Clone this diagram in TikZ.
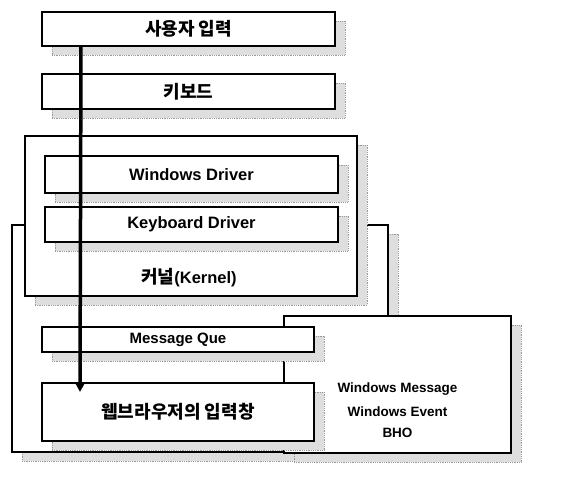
\documentclass[tikz,border=0pt]{standalone}
\usepackage{fontspec}
\setmainfont{Liberation Sans}
\newfontfamily\kr{Noto Sans CJK KR}
\usetikzlibrary{shadows,arrows.meta}
\tikzset{
  box/.style={draw=black, line width=1.3pt, fill=white, inner sep=0pt, outer sep=0pt,
    general shadow={fill=black!13, draw=black!40, densely dotted, line width=0.8pt, shadow xshift=10pt, shadow yshift=-9pt}},
  lbl/.style={font=\bfseries\fontsize{16.5}{19}\selectfont, inner sep=0pt},
  mlbl/.style={font=\bfseries\fontsize{15}{18}\selectfont, inner sep=0pt},
  rlbl/.style={font=\bfseries\fontsize{13.5}{16}\selectfont, inner sep=0pt},
  klbl/.style={font=\kr\bfseries\fontsize{18}{21}\selectfont, inner sep=0pt},
  flow/.style={line width=3.5pt, -{Triangle[length=9pt,width=9pt]}}
}
\begin{document}
\begin{tikzpicture}[x=1pt,y=-1pt]
\useasboundingbox (0,0) rectangle (563,484);
% outer application box
\node[box, minimum width=376pt, minimum height=227pt] (outer) at (200,338.5) {};
% right box
\node[box, minimum width=227pt, minimum height=137pt] (right) at (397.5,384.5) {};
% top boxes
\node[box, minimum width=293pt, minimum height=34pt, klbl] (user) at (188.5,29) {사용자~입력};
\node[box, minimum width=293pt, minimum height=35pt, klbl] (kbd) at (188.5,91.5) {키보드};
% kernel
\node[box, minimum width=332pt, minimum height=160pt] (kernel) at (191,216) {};
\node[box, minimum width=293pt, minimum height=37pt, lbl] (wdrv) at (191.5,174.5) {Windows Driver};
\node[box, minimum width=293pt, minimum height=35pt, lbl] (kdrv) at (191.5,224.5) {Keyboard Driver};
\node[klbl] (klabel) at (189,278) {커널{\rmfamily\bfseries\fontsize{16.5}{19}\selectfont(Kernel)}};
% application parts
\node[box, minimum width=272pt, minimum height=25pt, mlbl] (msg) at (178,339.5) {Message Que};
\node[box, minimum width=272pt, minimum height=58pt, klbl] (web) at (178,412) {웹브라우저의 입력창};
% right texts
\node[rlbl] (t1) at (397.5,389) {Windows Message};
\node[rlbl] (t2) at (397.5,412) {Windows Event};
\node[rlbl] (t3) at (397.5,433) {BHO};
% arrow
\draw[flow] ([xshift=39pt]user.south west) -- ([xshift=38pt,yshift=-9pt]web.north west);
\end{tikzpicture}
\end{document}
